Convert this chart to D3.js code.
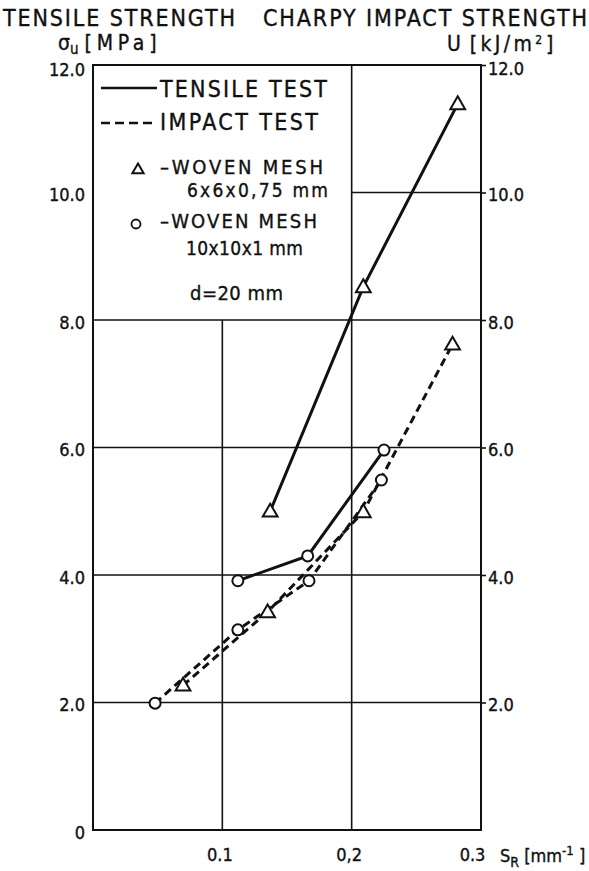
<!DOCTYPE html>
<html>
<head>
<meta charset="utf-8">
<script src="https://cdn.jsdelivr.net/npm/d3@7"></script>
<style>
  html, body { margin: 0; padding: 0; background: #fff; }
  svg text { font-family: "DejaVu Sans Condensed", "DejaVu Sans", sans-serif; fill: #111;
             stroke: #111; stroke-width: 0.35px; }
</style>
</head>
<body>
<svg id="chart" width="589" height="871"></svg>
<script>
// Specific surface of reinforcement S_R [1/mm] against strength
const tensileTriangleX = [0.137, 0.209, 0.282];
const tensileTriangleY = [5.0, 8.52, 11.39];
const impactTriangleX  = [0.0696, 0.135, 0.209, 0.278];
const impactTriangleY  = [2.27, 3.42, 4.99, 7.62];
const tensileCircleX   = [0.112, 0.166, 0.225];
const tensileCircleY   = [3.91, 4.30, 5.96];
const impactCircleX    = [0.048, 0.112, 0.167, 0.223];
const impactCircleY    = [1.99, 3.14, 3.91, 5.49];

const leftTicks   = [0, 2, 4, 6, 8, 10, 12];
const leftLabels  = ["0", "2.0", "4.0", "6.0", "8.0", "10.0", "12.0"];
const rightTicks  = [2, 4, 6, 8, 10, 12];
const rightLabels = ["2.0", "4.0", "6.0", "8.0", "10.0", "12.0"];
const xTicks      = [0.1, 0.2, 0.3];
const xLabels     = ["0.1", "0,2", "0.3"];

const svg = d3.select("#chart");
const pLeft = 93, pRight = 481, pTop = 65, pBottom = 830;
const x = d3.scaleLinear().domain([0, 0.3]).range([pLeft, pRight]);
const y = d3.scaleLinear().domain([0, 12]).range([pBottom, pTop]);
const ink = "#111";

// grid: the legend sits in the upper-left cell, so some lines are cut short
const grid = svg.append("g").attr("stroke", ink).attr("stroke-width", 1.6);
[2, 4, 6, 8].forEach(v => grid.append("line")
  .attr("x1", x(0)).attr("x2", x(0.3)).attr("y1", y(v)).attr("y2", y(v)));
grid.append("line").attr("x1", x(0.2)).attr("x2", x(0.3)).attr("y1", y(10)).attr("y2", y(10));
grid.append("line").attr("x1", x(0.1)).attr("x2", x(0.1)).attr("y1", y(0)).attr("y2", y(8));
grid.append("line").attr("x1", x(0.2)).attr("x2", x(0.2)).attr("y1", y(0)).attr("y2", y(12));

// frame
svg.append("rect").attr("x", pLeft).attr("y", pTop)
  .attr("width", pRight - pLeft).attr("height", pBottom - pTop)
  .attr("fill", "none").attr("stroke", ink).attr("stroke-width", 2);

// axes
const fs = 18;
const axL = svg.append("g").attr("transform", `translate(${pLeft},0)`)
  .call(d3.axisLeft(y).tickValues(leftTicks).tickSize(0).tickPadding(8)
    .tickFormat((d, i) => leftLabels[i]));
const axR = svg.append("g").attr("transform", `translate(${pRight},0)`)
  .call(d3.axisRight(y).tickValues(rightTicks).tickSize(5).tickPadding(2)
    .tickFormat((d, i) => rightLabels[i]));
const axB = svg.append("g").attr("transform", `translate(0,${pBottom})`)
  .call(d3.axisBottom(x).tickValues(xTicks).tickSize(0).tickPadding(18)
    .tickFormat((d, i) => xLabels[i]));
[axL, axR, axB].forEach(a => {
  a.select(".domain").remove();
  a.selectAll(".tick line").attr("stroke", ink).attr("stroke-width", 1.6);
  a.selectAll("text").attr("font-size", fs).attr("fill", ink)
    .style("font-family", "'DejaVu Sans Condensed', sans-serif");
});
axL.selectAll(".tick text").attr("dy", (d) => d === 12 ? "0.6em" : "0.45em");
axR.selectAll(".tick text").attr("dy", (d) => d === 12 ? "0.5em" : "0.45em");
axB.selectAll(".tick text").attr("dx", (d, i) => i === 2 ? -9 : -3);

// unit of abscissa
const sr = svg.append("text").attr("x", 500).attr("y", 862).attr("font-size", fs);
sr.append("tspan").text("S");
sr.append("tspan").attr("font-size", 14).attr("dy", 5).text("R");
sr.append("tspan").attr("dy", -5).text(" [mm");
sr.append("tspan").attr("font-size", 13).attr("dy", -7).text("-1");
sr.append("tspan").attr("dy", 7).text(" ]");

// headings
svg.append("text").attr("x", 3).attr("y", 26).attr("font-size", 23)
  .attr("textLength", 232).attr("lengthAdjust", "spacing").text("TENSILE STRENGTH");
svg.append("text").attr("x", 263).attr("y", 26).attr("font-size", 23)
  .attr("textLength", 324).attr("lengthAdjust", "spacing").text("CHARPY IMPACT STRENGTH");
const su = svg.append("text").attr("x", 58).attr("y", 50).attr("font-size", 21);
su.append("tspan").text("σ");
su.append("tspan").attr("font-size", 15).attr("dy", 4).text("u");
su.append("tspan").attr("dy", -4).attr("dx", 6)
  .attr("textLength", 72).attr("lengthAdjust", "spacing").text("[MPa]");
const uu = svg.append("text").attr("x", 447).attr("y", 51).attr("font-size", 21);
uu.append("tspan").text("U");
uu.append("tspan").attr("dx", 9).attr("textLength", 62).attr("lengthAdjust", "spacing").text("[kJ/m");
uu.append("tspan").attr("font-size", 12).attr("dy", -7).text("2");
uu.append("tspan").attr("dy", 7).attr("dx", 4).text("]");

// data series
const series = [
  { xs: tensileTriangleX, ys: tensileTriangleY, dash: null, mark: "tri" },
  { xs: tensileCircleX,   ys: tensileCircleY,   dash: null, mark: "circ" },
  { xs: impactTriangleX,  ys: impactTriangleY,  dash: "8,5", mark: "tri" },
  { xs: impactCircleX,    ys: impactCircleY,    dash: "8,5", mark: "circ" }
];
const line = d3.line().x(d => x(d[0])).y(d => y(d[1]));
const triPath = d3.symbol().type(d3.symbolTriangle).size(95);

series.forEach(s => {
  const pts = s.xs.map((v, i) => [v, s.ys[i]]);
  svg.append("path").datum(pts).attr("d", line)
    .attr("fill", "none").attr("stroke", ink).attr("stroke-width", 3)
    .attr("stroke-dasharray", s.dash);
});
series.forEach(s => {
  const pts = s.xs.map((v, i) => [v, s.ys[i]]);
  if (s.mark === "tri") {
    svg.selectAll(null).data(pts).enter().append("path")
      .attr("d", triPath)
      .attr("transform", d => `translate(${x(d[0])},${y(d[1]) + 1})`)
      .attr("fill", "#fff").attr("stroke", ink).attr("stroke-width", 2);
  } else {
    svg.selectAll(null).data(pts).enter().append("circle")
      .attr("cx", d => x(d[0])).attr("cy", d => y(d[1])).attr("r", 5.5)
      .attr("fill", "#fff").attr("stroke", ink).attr("stroke-width", 2);
  }
});

// legend
const lg = svg.append("g");
lg.append("line").attr("x1", 101).attr("x2", 157).attr("y1", 88).attr("y2", 88)
  .attr("stroke", ink).attr("stroke-width", 2.5);
lg.append("line").attr("x1", 101).attr("x2", 157).attr("y1", 123).attr("y2", 123)
  .attr("stroke", ink).attr("stroke-width", 2.5).attr("stroke-dasharray", "9,5");
const lt = (tx, ty, len, str, size) => lg.append("text")
  .attr("x", tx).attr("y", ty).attr("font-size", size)
  .attr("textLength", len).attr("lengthAdjust", "spacing").text(str);
lt(160, 97, 167, "TENSILE TEST", 23);
lt(160, 130, 158, "IMPACT TEST", 23);
lt(160, 174, 163, "–WOVEN MESH", 20);
lt(187, 197, 141, "6x6x0,75 mm", 19);
lt(160, 228, 157, "–WOVEN MESH", 20);
lt(186, 255, 117, "10x10x1 mm", 19);
lt(190, 300, 93, "d=20 mm", 20);
lg.append("path").attr("d", d3.symbol().type(d3.symbolTriangle).size(55))
  .attr("transform", "translate(138,170)")
  .attr("fill", "#fff").attr("stroke", ink).attr("stroke-width", 2);
lg.append("circle").attr("cx", 136).attr("cy", 224).attr("r", 4.5)
  .attr("fill", "#fff").attr("stroke", ink).attr("stroke-width", 1.8);
</script>
</body>
</html>
